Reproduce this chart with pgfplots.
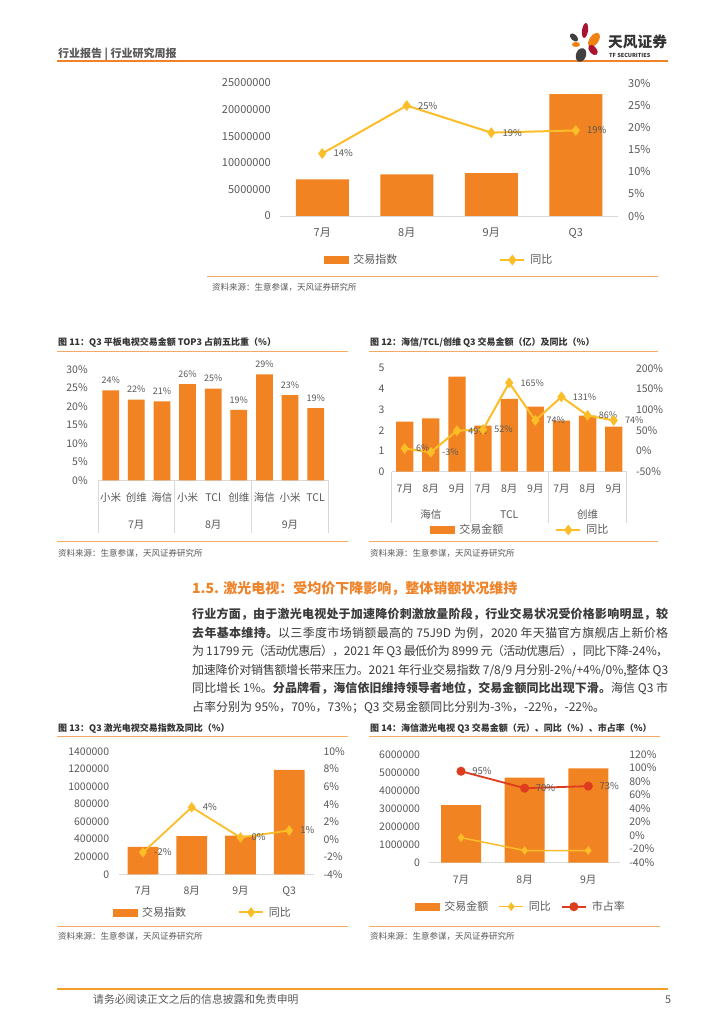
\documentclass[border=0pt]{standalone}
\usepackage{fontspec}
\setmainfont{Noto Sans CJK SC}
\usepackage{pgfplots}
\pgfplotsset{compat=1.18}

% stretchable glue between CJK characters, so that justified lines can be set
\newXeTeXintercharclass\cjkclass
\newcount\cc
\cc="4E00 \loop \XeTeXcharclass\cc=\cjkclass \advance\cc by 1 \ifnum\cc<"A000 \repeat
\cc="3000 \loop \XeTeXcharclass\cc=\cjkclass \advance\cc by 1 \ifnum\cc<"3040 \repeat
\cc="FF00 \loop \XeTeXcharclass\cc=\cjkclass \advance\cc by 1 \ifnum\cc<"FFF0 \repeat
\XeTeXinterchartoks\cjkclass\cjkclass={\hskip0pt plus 1.5pt minus 0.8pt\relax}
\XeTeXinterchartoks 0 \cjkclass={\hskip0pt plus 1.5pt minus 0.8pt\relax}
\XeTeXinterchartoks\cjkclass 0 ={\hskip0pt plus 1.5pt minus 0.8pt\relax}
\XeTeXinterchartokenstate=1

\definecolor{barc}{RGB}{242,131,34}
\definecolor{linec}{RGB}{252,190,40}
\definecolor{redc}{RGB}{222,60,30}
\definecolor{axgray}{RGB}{217,217,217}
\definecolor{tickc}{RGB}{89,89,89}
\definecolor{titlec}{RGB}{51,51,51}
\definecolor{ruleo}{RGB}{245,170,100}
\definecolor{heado}{RGB}{240,130,40}
\definecolor{footc}{RGB}{240,160,40}
\definecolor{logored}{RGB}{170,20,50}
\definecolor{logodark}{RGB}{64,64,64}
\definecolor{logoor}{RGB}{240,130,20}
\definecolor{bodyc}{RGB}{60,60,60}

\newcommand\fs[1]{\fontsize{#1}{#1}\selectfont}

\tikzset{
  gsep/.style={axgray, line width=0.8pt},
  grpl/.style={anchor=base, inner sep=0pt, font=\fs{10.5}, text=tickc, yshift=-#1},
}

\pgfplotsset{
  base/.style={scale only axis, anchor=south west, clip=false,
    /pgf/number format/assume math mode=true,
    /pgf/number format/fixed, /pgf/number format/1000 sep={},
    scaled ticks=false, tick style={draw=none}, major tick length=0pt,
    tick label style={text=tickc}},
  leftax/.style={base, axis x line*=bottom, axis y line*=left,
    x axis line style={-, draw=axgray, line width=0.8pt},
    y axis line style={draw=none},
    yticklabel style={anchor=east, inner sep=0pt, xshift=-#1}},
  rightax/.style={base, axis x line=none, axis y line*=right,
    y axis line style={draw=none},
    yticklabel style={anchor=west, inner sep=0pt, xshift=#1}},
  catlab/.style={xticklabel style={anchor=base, inner sep=0pt, yshift=-#1}},
  pct/.style={yticklabel={\pgfmathprintnumber{\tick}\%}},
  leg/.style={legend style={draw=none, fill=none, inner sep=0pt, outer sep=0pt,
    legend columns=-1, font=\fs{11}, text=tickc,
    /tikz/every even column/.append style={column sep=#1}}, legend cell align=left},
  barleg/.style={legend image code/.code={\fill[barc] (0pt,-3.5pt) rectangle (24pt,3.5pt); \path (27pt,0pt);}},
  lineleg/.style={legend image code/.code={\draw[mark repeat=2,mark phase=2] plot coordinates {(0pt,0pt) (12pt,0pt) (24pt,0pt)}; \path (27pt,0pt);}},
  barlab/.style={nodes near coords={\pgfplotspointmeta}, point meta=explicit symbolic,
    every node near coord/.append style={font=\fs{9}, text=tickc, yshift=3pt}},
  linelab/.style={nodes near coords={\pgfplotspointmeta}, point meta=explicit symbolic,
    every node near coord/.append style={font=\fs{#1}, text=tickc, anchor=west, xshift=7pt}},
}

\begin{document}
\begin{tikzpicture}
\fill[white] (0pt,0pt) rectangle (724pt,1024pt);
\path[use as bounding box] (0pt,0pt) rectangle (724pt,1024pt);

% header
\node[anchor=base west, inner sep=0pt, font=\fs{11}\bfseries, text=tickc] at (58pt,966.5pt) {行业报告 | 行业研究周报};
\draw[heado, line width=2pt] (57pt,963.3pt) -- (668pt,963.3pt);
\fill[logored, rotate around={-8:(585pt,993.5pt)}] (585pt,993.5pt) ellipse (3pt and 7.5pt);
\fill[logodark, rotate around={45:(574pt,986.5pt)}] (574pt,986.5pt) ellipse (3pt and 5pt);
\fill[logoor, rotate around={-35:(594pt,984pt)}] (594pt,984pt) ellipse (4.5pt and 8pt);
\fill[logoor] (576pt,979.5pt) ellipse (4pt and 2.5pt);
\fill[logored, rotate around={40:(593pt,974pt)}] (593pt,974pt) ellipse (3.5pt and 6pt);
\fill[logodark, rotate around={-20:(581pt,969pt)}] (581pt,969pt) ellipse (5pt and 7pt);
\node[anchor=west, inner sep=0pt, font=\fs{14.7}\bfseries, text=titlec] at (608pt,982.3pt) {天风证券};
\node[anchor=west, inner sep=0pt, font=\fs{5.5}\bfseries, text=titlec] at (609pt,968.3pt) {TF SECURITIES};

% ---------------- top chart
\begin{axis}[leftax=9pt, at={(280pt,808pt)}, width=338pt, height=133pt,
  xmin=-0.5, xmax=3.5, ymin=0, ymax=25000000,
  ytick={0,5000000,10000000,15000000,20000000,25000000},
  xtick={0,1,2,3}, xticklabels={7月,8月,9月,Q3}, catlab=21pt,
  tick label style={font=\fs{11}}]
\addplot[ybar, bar width=53pt, bar shift=0pt, fill=barc, draw=none]
  coordinates {(0,6900000) (1,7840000) (2,8080000) (3,22900000)};
\end{axis}
\begin{axis}[rightax=10pt, at={(280pt,808pt)}, width=338pt, height=133pt,
  xmin=-0.5, xmax=3.5, ymin=0, ymax=30, ytick={0,5,...,30}, pct,
  tick label style={font=\fs{11}},
  leg=100pt, legend style={at={(0.130,-0.331)}, anchor=west}]
\addlegendimage{barleg}
\addlegendentry{交易指数}
\addplot[linec, line width=2pt, mark=diamond*, mark size=3.8pt, lineleg, linelab=9.5]
  coordinates {(0,14.1) [14\%] (1,24.9) [25\%] (2,18.8) [19\%] (3,19.3) [19\%]};
\addlegendentry{同比}
\end{axis}
\draw[ruleo, line width=1pt] (207pt,747pt) -- (658pt,747pt);
\node[anchor=base west, inner sep=0pt, font=\fs{8.5}, text=tickc] at (212pt,733.8pt) {资料来源：生意参谋，天风证券研究所};

% ---------------- fig 11
\node[anchor=base west, inner sep=0pt, font=\fs{9}\bfseries, text=titlec] at (58pt,678.6pt) {图 11：Q3 平板电视交易金额 TOP3 占前五比重（\%）};
\draw[ruleo, line width=1pt] (57pt,672pt) -- (348pt,672pt);
\begin{axis}[leftax=10pt, at={(97.9pt,543.7pt)}, width=230.6pt, height=111pt,
  xmin=-0.5, xmax=8.5, ymin=0, ymax=30, ytick={0,5,...,30}, pct,
  xtick={0,...,8}, xticklabels={小米,创维,海信,小米,TCl,创维,海信,小米,TCL}, catlab=21.5pt,
  tick label style={font=\fs{10.5}}]
\addplot[ybar, bar width=16.7pt, bar shift=0pt, fill=barc, draw=none, barlab]
  coordinates {(0,24.3) [24\%] (1,21.8) [22\%] (2,21.35) [21\%] (3,26.0) [26\%] (4,24.8) [25\%]
               (5,19.0) [19\%] (6,28.6) [29\%] (7,23.0) [23\%] (8,19.5) [19\%]};
\draw[gsep] (axis cs:-0.5,0) -- ++(0pt,-53pt);
\draw[gsep] (axis cs:2.5,0) -- ++(0pt,-53pt);
\draw[gsep] (axis cs:5.5,0) -- ++(0pt,-53pt);
\draw[gsep] (axis cs:8.5,0) -- ++(0pt,-53pt);
\node[grpl=48pt] at (axis cs:1,0) {7月};
\node[grpl=48pt] at (axis cs:4,0) {8月};
\node[grpl=48pt] at (axis cs:7,0) {9月};
\end{axis}
\draw[ruleo, line width=1pt] (57pt,482pt) -- (348pt,482pt);
\node[anchor=base west, inner sep=0pt, font=\fs{8.5}, text=tickc] at (58pt,467.8pt) {资料来源：生意参谋，天风证券研究所};

% ---------------- fig 12
\node[anchor=base west, inner sep=0pt, font=\fs{9}\bfseries, text=titlec] at (370pt,678.6pt) {图 12：海信/TCL/创维 Q3 交易金额（亿）及同比（\%）};
\draw[ruleo, line width=1pt] (369pt,672pt) -- (658pt,672pt);
\begin{axis}[leftax=7pt, at={(391.6pt,552.3pt)}, width=235.2pt, height=103.4pt,
  xmin=-0.5, xmax=8.5, ymin=0, ymax=5, ytick={0,...,5},
  xtick={0,...,8}, xticklabels={7月,8月,9月,7月,8月,9月,7月,8月,9月}, catlab=21pt,
  tick label style={font=\fs{10.5}}]
\addplot[ybar, bar width=17.3pt, bar shift=0pt, fill=barc, draw=none]
  coordinates {(0,2.42) (1,2.58) (2,4.60) (3,2.23) (4,3.52) (5,3.15) (6,2.47) (7,2.71) (8,2.18)};
\draw[gsep] (axis cs:-0.5,0) -- ++(0pt,-51pt);
\draw[gsep] (axis cs:2.5,0) -- ++(0pt,-51pt);
\draw[gsep] (axis cs:5.5,0) -- ++(0pt,-51pt);
\draw[gsep] (axis cs:8.5,0) -- ++(0pt,-51pt);
\node[grpl=46.5pt] at (axis cs:1,0) {海信};
\node[grpl=46.5pt] at (axis cs:4,0) {TCL};
\node[grpl=46.5pt] at (axis cs:7,0) {创维};
\end{axis}
\begin{axis}[rightax=9pt, at={(391.6pt,552.3pt)}, width=235.2pt, height=103.4pt,
  xmin=-0.5, xmax=8.5, ymin=-50, ymax=200, ytick={-50,0,...,200}, pct,
  tick label style={font=\fs{10.5}},
  leg=50pt, legend style={at={(0.163,-0.564)}, anchor=west}]
\addlegendimage{barleg}
\addlegendentry{交易金额}
\addplot[linec, line width=2pt, mark=diamond*, mark size=3.8pt, lineleg, linelab=9]
  coordinates {(0,6) [6\%] (1,-3) [-3\%] (2,49) [49\%] (3,52) [52\%] (4,165) [165\%]
               (5,74) [74\%] (6,131) [131\%] (7,86) [86\%] (8,74) [74\%]};
\addlegendentry{同比}
\end{axis}
\draw[ruleo, line width=1pt] (369pt,482pt) -- (658pt,482pt);
\node[anchor=base west, inner sep=0pt, font=\fs{8.5}, text=tickc] at (370pt,467.8pt) {资料来源：生意参谋，天风证券研究所};

% ---------------- section text
\node[anchor=base west, inner sep=0pt, font=\fs{14}\bfseries, text=heado] at (192pt,430.7pt) {1.5. 激光电视：受均价下降影响，整体销额状况维持};
\begin{scope}[every node/.style={anchor=base west, inner sep=0pt, font=\fs{12}, text=bodyc}]
\node at (192pt,405.4pt) {\hbox to 476pt{\bfseries 行业方面，由于激光电视处于加速降价刺激放量阶段，行业交易状况受价格影响明显，较}};
\node at (192pt,386.9pt) {\hbox to 476pt{\textbf{去年基本维持。}以三季度市场销额最高的 75J9D 为例，2020 年天猫官方旗舰店上新价格}};
\node at (192pt,368.4pt) {\hbox to 476pt{为 11799 元（活动优惠后），2021 年 Q3 最低价为 8999 元（活动优惠后），同比下降-24\%，}};
\node at (192pt,349.9pt) {\hbox to 476pt{加速降价对销售额增长带来压力。2021 年行业交易指数 7/8/9 月分别-2\%/+4\%/0\%,整体 Q3}};
\node at (192pt,331.4pt) {\hbox to 476pt{同比增长 1\%。\textbf{分品牌看，海信依旧维持领导者地位，交易金额同比出现下滑。}海信 Q3 市}};
\node at (192pt,312.9pt) {占率分别为 95\%，70\%，73\%；Q3 交易金额同比分别为-3\%，-22\%，-22\%。};
\end{scope}

% ---------------- fig 13
\node[anchor=base west, inner sep=0pt, font=\fs{9}\bfseries, text=titlec] at (58pt,292.9pt) {图 13：Q3 激光电视交易指数及同比（\%）};
\draw[ruleo, line width=1pt] (57pt,287.3pt) -- (348pt,287.3pt);
\begin{axis}[leftax=9.3pt, at={(118.6pt,149.7pt)}, width=195pt, height=122.7pt,
  xmin=-0.5, xmax=3.5, ymin=0, ymax=1400000, ytick={0,200000,...,1400000},
  xtick={0,1,2,3}, xticklabels={7月,8月,9月,Q3}, catlab=20.5pt,
  tick label style={font=\fs{10.5}}]
\addplot[ybar, bar width=30.7pt, bar shift=0pt, fill=barc, draw=none]
  coordinates {(0,312000) (1,436000) (2,440000) (3,1191000)};
\end{axis}
\begin{axis}[rightax=9.7pt, at={(118.6pt,149.7pt)}, width=195pt, height=122.7pt,
  xmin=-0.5, xmax=3.5, ymin=-4, ymax=10, ytick={-4,-2,...,10}, pct,
  tick label style={font=\fs{10.5}},
  leg=50pt, legend style={at={(-0.030,-0.310)}, anchor=west}]
\addlegendimage{barleg}
\addlegendentry{交易指数}
\addplot[linec, line width=1.8pt, mark=diamond*, mark size=3.8pt, lineleg, linelab=9.5]
  coordinates {(0,-1.5) [-2\%] (1,3.65) [4\%] (2,0.2) [0\%] (3,1.0) [1\%]};
\addlegendentry{同比}
\end{axis}
\draw[ruleo, line width=1pt] (57pt,97pt) -- (348pt,97pt);
\node[anchor=base west, inner sep=0pt, font=\fs{8.5}, text=tickc] at (58pt,84.1pt) {资料来源：生意参谋，天风证券研究所};

% ---------------- fig 14
\node[anchor=base west, inner sep=0pt, font=\fs{9}\bfseries, text=titlec] at (370pt,292.9pt) {图 14：海信激光电视 Q3 交易金额（元）、同比（\%）、市占率（\%）};
\draw[ruleo, line width=1pt] (369pt,287.3pt) -- (660pt,287.3pt);
\begin{axis}[leftax=9pt, at={(429.2pt,161.3pt)}, width=190.9pt, height=108.4pt,
  xmin=-0.5, xmax=2.5, ymin=0, ymax=6000000, ytick={0,1000000,...,6000000},
  xtick={0,1,2}, xticklabels={7月,8月,9月}, catlab=21pt,
  tick label style={font=\fs{10.5}}]
\addplot[ybar, bar width=40pt, bar shift=0pt, fill=barc, draw=none]
  coordinates {(0,3190000) (1,4710000) (2,5220000)};
\end{axis}
\begin{axis}[rightax=9pt, at={(429.2pt,161.3pt)}, width=190.9pt, height=108.4pt,
  xmin=-0.5, xmax=2.5, ymin=-40, ymax=120, ytick={-40,-20,...,120}, pct,
  tick label style={font=\fs{10.5}},
  leg=8pt, legend style={at={(-0.074,-0.406)}, anchor=west}]
\addlegendimage{barleg}
\addlegendentry{交易金额}
\addplot[linec, line width=1.5pt, mark=diamond*, mark size=3.2pt, lineleg]
  coordinates {(0,-3) (1,-22) (2,-22)};
\addlegendentry{同比}
\addplot[redc, line width=1.8pt, mark=*, mark size=3.6pt, lineleg, linelab=9.5]
  coordinates {(0,95) [95\%] (1,70) [70\%] (2,73) [73\%]};
\addlegendentry{市占率}
\end{axis}
\draw[ruleo, line width=1pt] (369pt,97pt) -- (660pt,97pt);
\node[anchor=base west, inner sep=0pt, font=\fs{8.5}, text=tickc] at (370pt,84.1pt) {资料来源：生意参谋，天风证券研究所};

% footer
\draw[footc, line width=2pt] (57pt,35pt) -- (668pt,35pt);
\node[anchor=base west, inner sep=0pt, font=\fs{10.8}, text=tickc] at (93pt,20pt) {请务必阅读正文之后的信息披露和免责申明};
\node[anchor=base, inner sep=0pt, font=\fs{10.8}, text=tickc] at (668pt,20pt) {5};
\end{tikzpicture}
\end{document}
